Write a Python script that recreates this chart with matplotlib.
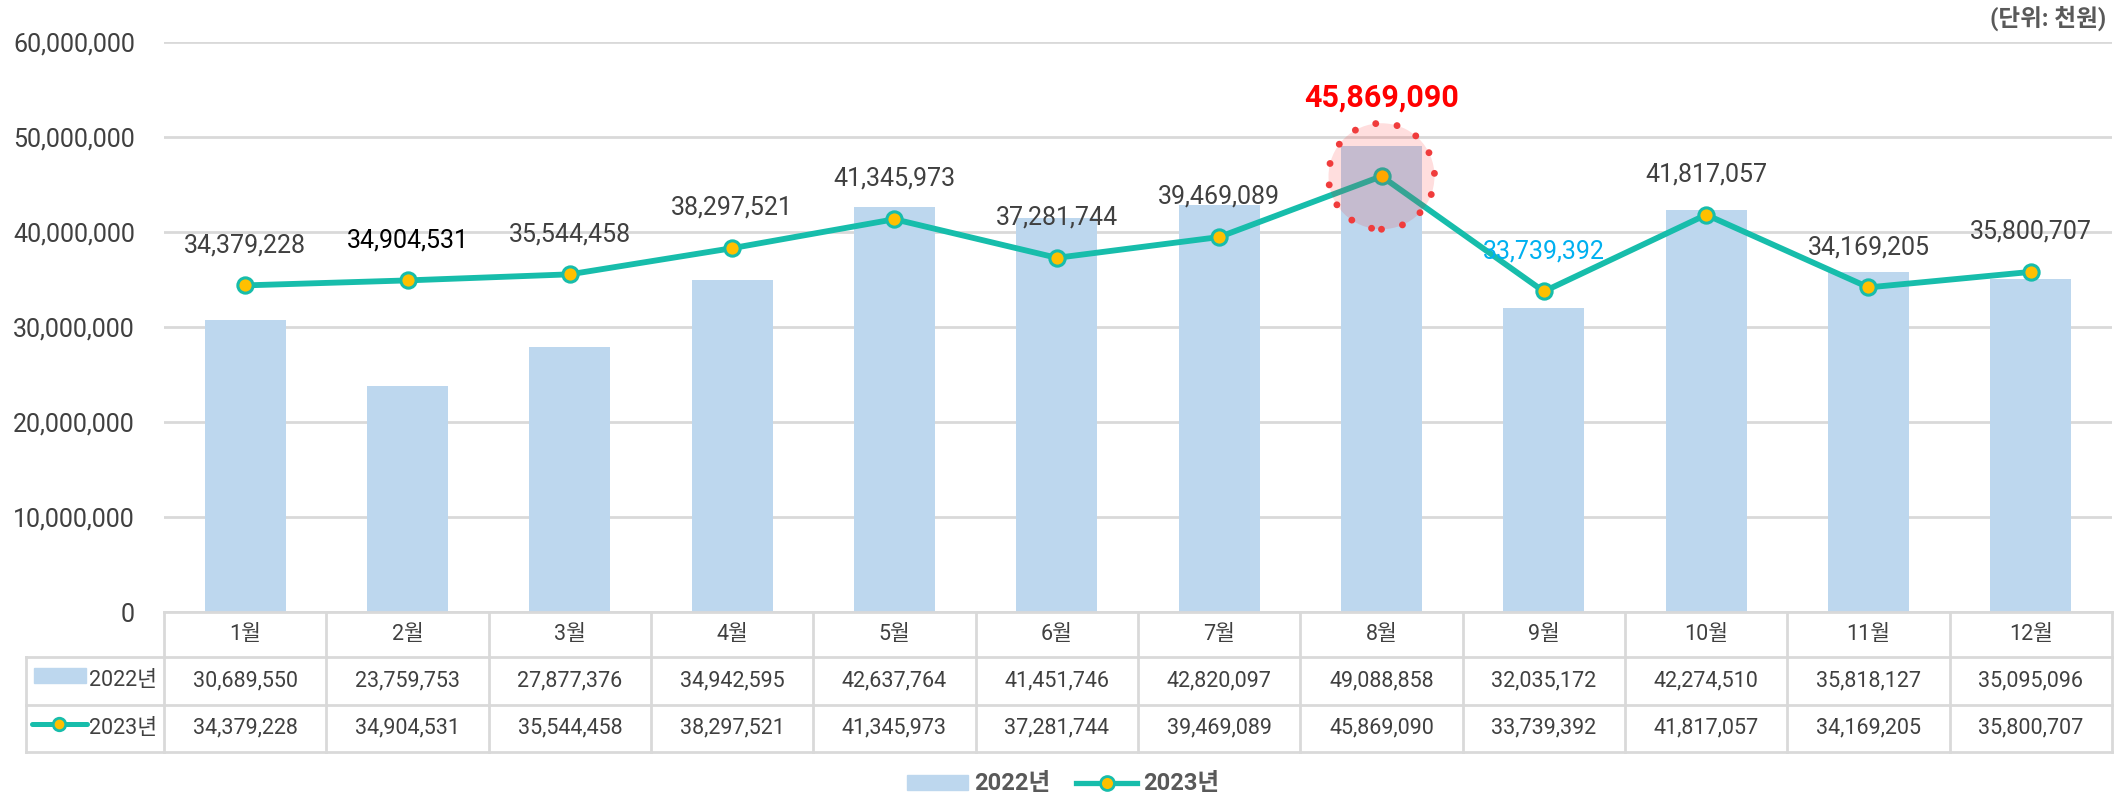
import numpy as np
import matplotlib
matplotlib.use('Agg')
import matplotlib.pyplot as plt
import matplotlib.transforms as mtransforms
from matplotlib.patches import Circle, Patch
from matplotlib.lines import Line2D

plt.rcParams['font.family'] = ['Roboto', 'Noto Sans CJK KR', 'DejaVu Sans']

months = ['1월', '2월', '3월', '4월', '5월', '6월', '7월', '8월', '9월', '10월', '11월', '12월']
sales_2022 = [30689550, 23759753, 27877376, 34942595, 42637764, 41451746,
              42820097, 49088858, 32035172, 42274510, 35818127, 35095096]
sales_2023 = [34379228, 34904531, 35544458, 38297521, 41345973, 37281744,
              39469089, 45869090, 33739392, 41817057, 34169205, 35800707]
yticks = [0, 10000000, 20000000, 30000000, 40000000, 50000000, 60000000]
series_names = ['2022년', '2023년']
unit_text = '(단위: 천원)'

BAR = '#BDD7EE'
LINE = '#17BDAB'
MARK = '#FFC000'
GRID = '#D9D9D9'
TXT = '#404040'

W, H = 2126, 799
fig = plt.figure(figsize=(W / 100, H / 100), dpi=100)
ax = fig.add_axes([164 / W, 1 - 612 / H, (2112 - 164) / W, (612 - 42) / H])

x = np.arange(len(months))
ax.bar(x, sales_2022, width=0.5, color=BAR, zorder=2)
ax.plot(x, sales_2023, color=LINE, lw=4.2, marker='o', ms=11,
        mfc=MARK, mec=LINE, mew=2.2, zorder=4)

ax.set_xlim(-0.5, len(months) - 0.5)
ax.set_ylim(0, 60000000)
ax.set_yticks(yticks)
ax.set_yticklabels([f'{v:,}' for v in yticks], fontsize=18, color=TXT)
ax.tick_params(axis='y', length=0, pad=21)
ax.set_xticks([])
ax.grid(axis='y', color=GRID, lw=2, zorder=0)
for s in ax.spines.values():
    s.set_visible(False)

# data labels
for i, v in enumerate(sales_2023):
    color, weight, size, off = TXT, 'normal', 18, 29
    if i == 1:
        color = 'black'
    if i == 7:
        color, weight, size, off = '#FF0000', 'bold', 22, 57
    if i == 8:
        color = '#00B0F0'
    ax.annotate(f'{v:,}', (i, v), xytext=(0, off), textcoords='offset points',
                ha='center', va='center', fontsize=size, color=color,
                fontweight=weight, zorder=6)

# highlight circle around peak month
imax = int(np.argmax(sales_2023))
ctrans = fig.dpi_scale_trans + mtransforms.ScaledTranslation(imax, sales_2023[imax], ax.transData)
ax.add_patch(Circle((0, 0), 0.53, transform=ctrans, facecolor=(1, 0, 0, 0.13),
                    edgecolor='#F03C3C', lw=5, linestyle=(0, (0.001, 3.1)),
                    capstyle='round', zorder=5, clip_on=False))

# data table under the axes
bt = mtransforms.blended_transform_factory(ax.transData, fig.transFigure)
fy = lambda py: 1 - py / H
fx = lambda px: px / W
tbl_lw = 2
for k in range(len(months) + 1):
    ax.add_line(Line2D([k - 0.5, k - 0.5], [fy(612), fy(752)], transform=bt,
                       color=GRID, lw=tbl_lw, clip_on=False))
for py in [612, 657, 705, 752]:
    ax.add_line(Line2D([-0.5, len(months) - 0.5], [fy(py), fy(py)], transform=bt,
                       color=GRID, lw=tbl_lw, clip_on=False))
for py in [657, 705, 752]:
    fig.add_artist(Line2D([fx(26), fx(164)], [fy(py), fy(py)], color=GRID, lw=tbl_lw))
fig.add_artist(Line2D([fx(26), fx(26)], [fy(657), fy(752)], color=GRID, lw=tbl_lw))

for i, m in enumerate(months):
    ax.text(i, fy(635), m, transform=bt, ha='center', va='center', fontsize=15.5, color=TXT)
    ax.text(i, fy(681), f'{sales_2022[i]:,}', transform=bt, ha='center', va='center',
            fontsize=15.5, color=TXT)
    ax.text(i, fy(728), f'{sales_2023[i]:,}', transform=bt, ha='center', va='center',
            fontsize=15.5, color=TXT)

# legend keys in the table's first column
fig.add_artist(plt.Rectangle((fx(34), fy(683)), fx(86) - fx(34), fy(668) - fy(683),
                             transform=fig.transFigure, color=BAR))
fig.add_artist(Line2D([fx(32), fx(87)], [fy(724), fy(724)], color=LINE, lw=3.6,
                      solid_capstyle='round'))
fig.add_artist(Line2D([fx(59)], [fy(724)], marker='o', ms=9, mfc=MARK, mec=LINE, mew=2))
fig.text(fx(157), fy(681), series_names[0], ha='right', va='center', fontsize=15.5, color=TXT)
fig.text(fx(157), fy(728), series_names[1], ha='right', va='center', fontsize=15.5, color=TXT)

# bottom legend
handles = [Patch(color=BAR, label=series_names[0]),
           Line2D([], [], color=LINE, lw=3.8, marker='o', ms=10, mfc=MARK, mec=LINE,
                  mew=2, label=series_names[1])]
fig.legend(handles=handles, loc='center', bbox_to_anchor=(0.5, fy(784)), ncol=2,
           frameon=False, prop={'size': 17, 'weight': 'bold'}, labelcolor='#595959',
           handlelength=2.6, handleheight=0.6, columnspacing=1.1, handletextpad=0.25)

fig.text(fx(2106), fy(18), unit_text, ha='right', va='center', fontsize=17,
         fontweight='bold', color='#595959')

fig.savefig('out.png', dpi=100)
